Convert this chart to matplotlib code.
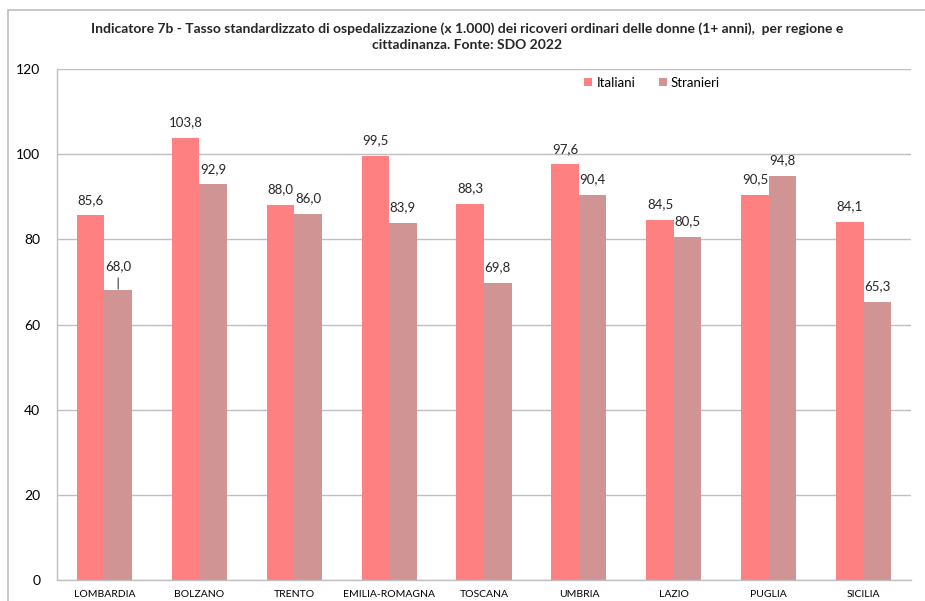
import numpy as np
import matplotlib.pyplot as plt
from matplotlib.patches import Rectangle

plt.rcParams['font.family'] = ['Lato', 'DejaVu Sans']

regioni = ['LOMBARDIA', 'BOLZANO', 'TRENTO', 'EMILIA-ROMAGNA', 'TOSCANA',
           'UMBRIA', 'LAZIO', 'PUGLIA', 'SICILIA']
italiani = [85.6, 103.8, 88.0, 99.5, 88.3, 97.6, 84.5, 90.5, 84.1]
stranieri = [68.0, 92.9, 86.0, 83.9, 69.8, 90.4, 80.5, 94.8, 65.3]

col_ita = '#FF8080'
col_str = '#D09494'
grid_col = '#BFBFBF'

fig = plt.figure(figsize=(9.25, 6.01), dpi=100)
# outer chart frame (only left/top edges visible in the screenshot)
fig.patches.append(Rectangle((8 / 925, -0.05), 1.2, 1 - 10 / 601 + 0.05,
                             transform=fig.transFigure, fill=False,
                             edgecolor='#BDBDBD', linewidth=1.2))

ax = fig.add_axes([57 / 925, 21 / 601, (911 - 57) / 925, (580 - 69) / 601])

x = np.arange(len(regioni))
w = 0.29
ax.bar(x - w / 2, italiani, w, color=col_ita, label='Italiani', zorder=2)
ax.bar(x + w / 2, stranieri, w, color=col_str, label='Stranieri', zorder=2)

def fmt(v):
    return f'{v:.1f}'.replace('.', ',')

for i, v in enumerate(italiani):
    ax.annotate(fmt(v), (x[i] - w / 2, v), xytext=(0, 7), textcoords='offset points',
                ha='center', va='bottom', fontsize=9.5, color='#262626')
for i, v in enumerate(stranieri):
    if i == 0:
        # label pushed up with a leader line
        ax.annotate(fmt(v), (x[i] + w / 2, v), xytext=(0, 13), textcoords='offset points',
                    ha='center', va='bottom', fontsize=9.5, color='#262626',
                    arrowprops=dict(arrowstyle='-', color='#404040', lw=0.8,
                                    shrinkA=2, shrinkB=1))
    else:
        ax.annotate(fmt(v), (x[i] + w / 2, v), xytext=(0, 7), textcoords='offset points',
                    ha='center', va='bottom', fontsize=9.5, color='#262626')

ax.set_ylim(0, 120)
ax.set_xlim(-0.5, len(regioni) - 0.5)
ax.set_yticks(range(0, 121, 20))
ax.yaxis.grid(True, color=grid_col, linewidth=1, zorder=0)
ax.set_axisbelow(True)
ax.set_xticks(x)
ax.set_xticklabels(regioni, fontsize=7.5)
ax.tick_params(axis='y', length=0, pad=12, labelsize=10)
ax.tick_params(axis='x', length=0, pad=7)
for s in ['top', 'right']:
    ax.spines[s].set_visible(False)
for s in ['left', 'bottom']:
    ax.spines[s].set_color(grid_col)
    ax.spines[s].set_linewidth(1)

ax.legend(loc='upper center', bbox_to_anchor=(0.697, 1.008), ncol=2, frameon=False,
          fontsize=9.5, handlelength=0.6, handleheight=0.6, handletextpad=0.3,
          columnspacing=1.8)

fig.text(0.505, 1 - 29 / 601, 'Indicatore 7b - Tasso standardizzato di ospedalizzazione '
         '(x 1.000) dei ricoveri ordinari delle donne (1+ anni),  per regione e',
         ha='center', va='center', fontsize=10, fontweight='bold', color='#262626')
fig.text(0.505, 1 - 45 / 601, 'cittadinanza. Fonte: SDO 2022',
         ha='center', va='center', fontsize=10, fontweight='bold', color='#262626')

fig.savefig('out.png', dpi=100)
